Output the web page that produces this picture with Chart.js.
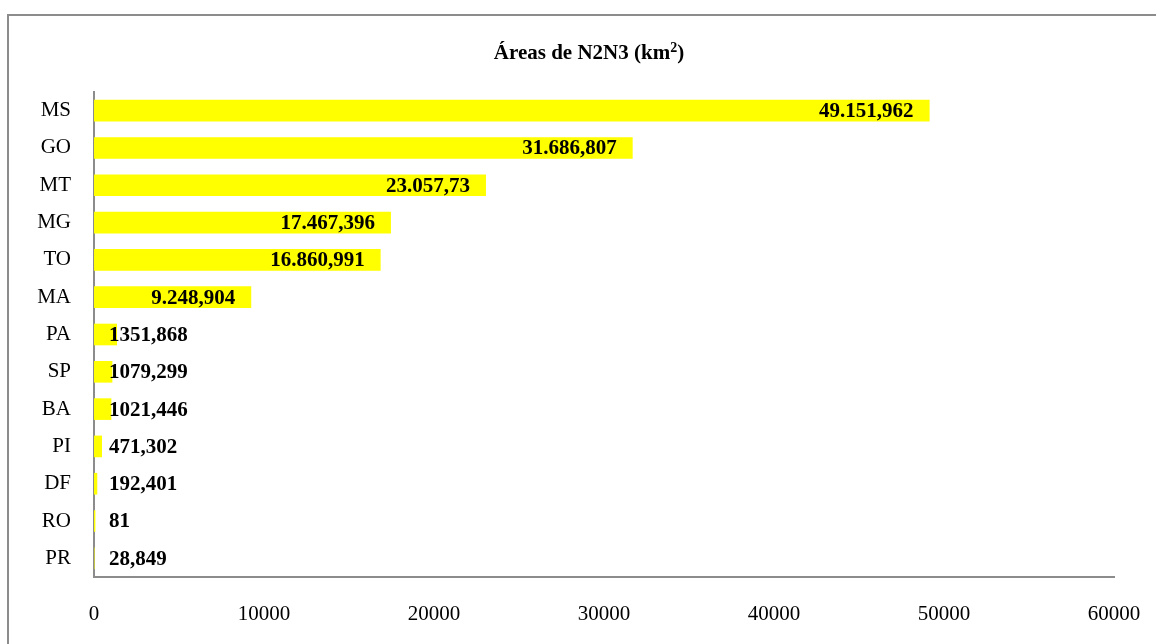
<!DOCTYPE html>
<html>
<head>
<meta charset="utf-8">
<script src="https://cdn.jsdelivr.net/npm/chart.js@4"></script>
<style>
  html, body { margin: 0; padding: 0; background: #fff; overflow: hidden; }
  #wrap { position: relative; width: 1156px; height: 644px; }
  #frame { position: absolute; left: 7px; top: 14px; width: 1200px; height: 700px; border: 2px solid #8c8c8c; }
  canvas { position: absolute; left: 0; top: 0; }
</style>
</head>
<body>
<div id="wrap">
  <div id="frame"></div>
  <canvas id="areaChart" width="1156" height="644"></canvas>
</div>
<script>
// Estados e áreas (km²)
const states = ['MS', 'GO', 'MT', 'MG', 'TO', 'MA', 'PA', 'SP', 'BA', 'PI', 'DF', 'RO', 'PR'];
const areas = [49151.962, 31686.807, 23057.73, 17467.396, 16860.991, 9248.904, 1351.868, 1079.299, 1021.446, 471.302, 192.401, 81, 28.849];
// rótulos como aparecem no gráfico original
const areaLabels = ['49.151,962', '31.686,807', '23.057,73', '17.467,396', '16.860,991', '9.248,904', '1351,868', '1079,299', '1021,446', '471,302', '192,401', '81', '28,849'];
const xTicks = [0, 10000, 20000, 30000, 40000, 50000, 60000];
// título: texto, expoente, fecho
const titleParts = ['Áreas de N2N3 (km', '2', ')'];

const serif = '"Liberation Serif", "Times New Roman", serif';

// Título centrado na moldura, com expoente verdadeiro
const chartTitle = {
    id: 'chartTitle',
    afterDraw(chart) {
        const ctx = chart.ctx;
        ctx.save();
        const big = 'bold 21px ' + serif;
        const small = 'bold 14px ' + serif;
        ctx.font = big;
        const w1 = ctx.measureText(titleParts[0]).width;
        const w3 = ctx.measureText(titleParts[2]).width;
        ctx.font = small;
        const w2 = ctx.measureText(titleParts[1]).width;
        let x = 589 - (w1 + w2 + w3) / 2;
        const y = 54;
        ctx.fillStyle = '#000';
        ctx.textBaseline = 'middle';
        ctx.textAlign = 'left';
        ctx.font = big;
        ctx.fillText(titleParts[0], x, y);
        x += w1;
        ctx.font = small;
        ctx.fillText(titleParts[1], x, y - 6);
        x += w2;
        ctx.font = big;
        ctx.fillText(titleParts[2], x, y);
        ctx.restore();
    }
};

// Rótulos de valor: dentro da ponta da barra, ou junto ao eixo se não couber
const valueLabels = {
    id: 'valueLabels',
    afterDatasetsDraw(chart) {
        const ctx = chart.ctx;
        const meta = chart.getDatasetMeta(0);
        ctx.save();
        ctx.font = 'bold 21px ' + serif;
        ctx.fillStyle = '#000';
        ctx.textBaseline = 'middle';
        ctx.textAlign = 'left';
        meta.data.forEach((bar, i) => {
            const txt = areaLabels[i];
            const w = ctx.measureText(txt).width;
            let x = bar.x - 16 - w;
            if (x < bar.base + 15) x = bar.base + 15;
            ctx.fillText(txt, x, bar.y + 1);
        });
        ctx.restore();
    }
};

new Chart(document.getElementById('areaChart'), {
    type: 'bar',
    data: {
        labels: states,
        datasets: [{
            data: areas,
            backgroundColor: '#FFFF00',
            borderWidth: 0,
            categoryPercentage: 1,
            barPercentage: 0.58
        }]
    },
    options: {
        indexAxis: 'y',
        responsive: false,
        animation: false,
        layout: { padding: { left: 0, right: 42, top: 92, bottom: 0 } },
        plugins: {
            legend: { display: false },
            tooltip: { enabled: false },
            title: { display: false }
        },
        scales: {
            x: {
                min: 0,
                max: 60000,
                afterBuildTicks: (scale) => { scale.ticks = xTicks.map(v => ({ value: v })); },
                grid: { display: false, drawTicks: false },
                border: { display: true, color: '#8c8c8c', width: 2 },
                ticks: {
                    color: '#000',
                    font: { family: serif, size: 21 },
                    padding: 25,
                    maxRotation: 0,
                    callback: (v) => String(v)
                },
                afterFit: (scale) => {
                    scale.height = 67;
                    scale.paddingLeft = 0;
                    scale.paddingRight = 0;
                }
            },
            y: {
                grid: { display: false, drawTicks: false },
                border: { display: true, color: '#8c8c8c', width: 2 },
                ticks: {
                    color: '#000',
                    font: { family: serif, size: 21 },
                    padding: 23
                },
                afterFit: (scale) => { scale.width = 94; }
            }
        }
    },
    plugins: [valueLabels, chartTitle]
});
</script>
</body>
</html>
